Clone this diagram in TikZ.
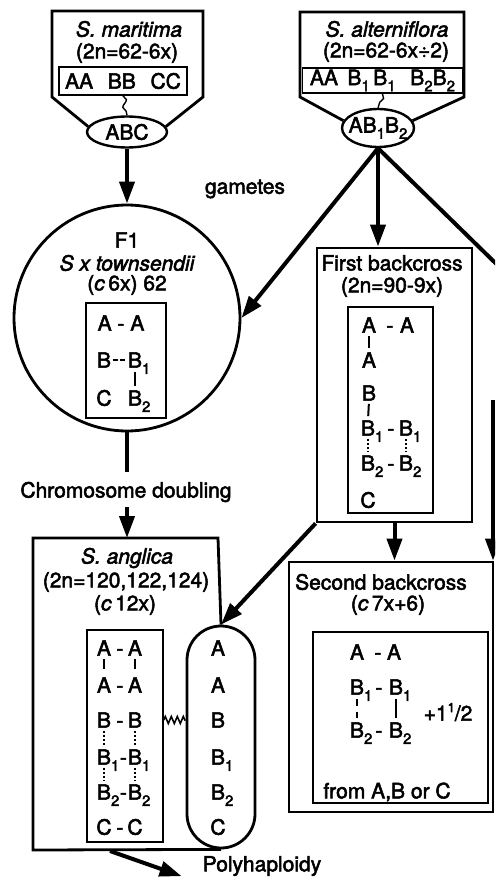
\documentclass[tikz,border=0pt]{standalone}
\usepackage{fontspec}
\setmainfont{TeX Gyre Heros}[FakeBold=2.4]
\usetikzlibrary{arrows.meta,decorations.pathmorphing,shapes.geometric}

% lowered chromosome index: zero width (for aligned columns) and inline
\newcommand\subn[1]{\smash{\rlap{\raisebox{-0.3em}{\fontsize{15}{15}\selectfont #1}}}}
\newcommand\subi[1]{\raisebox{-0.3em}{\fontsize{15}{15}\selectfont #1}}
% pairing hyphen, boxed as tall as a capital so it centres like the letters
\newcommand\hy{\vphantom{A}-}

\begin{document}
\begin{tikzpicture}[x=1pt,y=-1pt,
  every node/.style={font=\fontsize{21}{24}\selectfont, inner sep=0pt},
  it/.style={font=\fontsize{21}{24}\selectfont\itshape},
  outline/.style={line width=2.8pt, line join=miter},
  frame/.style={draw, line width=2.8pt},
  inbox/.style={draw, line width=1.6pt},
  gam/.style={draw, ellipse, line width=2.4pt},
  heavy/.style={line width=4pt},
  arr/.style={line width=4pt, -{Triangle[length=22pt,width=15pt]}},
  bar/.style={line width=2pt},
  dotbar/.style={line width=2pt, dash pattern=on 2pt off 2pt},
  squig/.style={line width=1.4pt, decorate, decoration={snake, amplitude=2.5pt, segment length=14pt}},
  zz/.style={line width=1.6pt, decorate, decoration={zigzag, amplitude=3.5pt, segment length=6pt}},
]
\useasboundingbox (0,0) rectangle (495,877);
\clip (0,0) rectangle (495,877);

% ---- S. maritima
\coordinate (mTL) at (52,11);
\coordinate (mTR) at (203,11);
\coordinate (mBL) at (52,97);
\coordinate (mBR) at (203,97);
\node[gam, minimum width=80pt, minimum height=31pt] (abc) at (127,132) {};
\node (abct) at (abc) {ABC};
\draw[outline] (abc.172) -- (mBL) -- (mTL) -- (mTR) -- (mBR) -- (abc.8);
\node[it] (mar1) at (129,29) {S. maritima};
\node (mar2) at (127,53) {(2n=62-6x)};
\node[inbox, minimum width=128pt, minimum height=28pt] (marg) at (123,81) {};
\node (margt) at (marg) {AA\hspace{0.7em}BB\hspace{0.7em}CC};
\draw[squig] (marg.south) -- (abc.north);

% ---- S. alterniflora
\coordinate (aTL) at (300,12);
\coordinate (aTR) at (464,12);
\coordinate (aBL) at (300,97);
\coordinate (aBR) at (464,97);
\node[gam, minimum width=72pt, minimum height=38pt] (ab) at (378,128) {};
\node (abt) at (ab) {AB\subi{1}B\subi{2}};
\draw[outline] (ab.168) -- (aBL) -- (aTL) -- (aTR) -- (aBR) -- (ab.12);
\node[it] (alt1) at (387,29) {S. alterniflora};
\node (alt2) at (386,52) {(2n=62-6x÷2)};
\node[inbox, minimum width=160pt, minimum height=25pt] (altg) at (382.5,80.5) {};
\node (altgt) at (altg) {AA\hspace{0.45em}B\subi{1}\,B\subi{1}\hspace{0.7em}B\subi{2}B\subi{2}};
\draw[squig] (altg.south) -- (ab.north);

\node (gam) at (245,189) {gametes};

% ---- F1 hybrid
\node[circle, draw, line width=2.8pt, minimum size=226pt] (f1) at (127,318) {};
\node (f1a) at (127,240) {F1};
\node[it] (f1b) at (127,263) {S x townsendii};
\node (f1c) at (127,285) {(\textit{c}\,6x) 62};
\node[inbox, minimum width=80pt, minimum height=115pt] (f1g) at (126,360.5) {};
\node (f1r1) at (121,323) {A - A};
\node (f1B) at (104,360) {B};
\node (f1B1) at (135,360) {B\subn{1}};
\node (f1C) at (104,398) {C};
\node (f1B2) at (135,398) {B\subn{2}};
\draw[line width=2pt, dash pattern=on 5pt off 2pt, shorten <=1.5pt, shorten >=1.5pt] (f1B.east) -- (f1B1.west);
\draw[bar, shorten <=4pt, shorten >=4pt] (f1B1.south) -- (f1B2.north);

% ---- first backcross
\node[frame, minimum width=155pt, minimum height=274pt] (fb) at (394.5,385) {};
\node (fb1) at (392,263) {First backcross};
\node (fb2) at (392,287) {(2n=90-9x)};
\node[inbox, minimum width=85pt, minimum height=206pt] (fbg) at (390.5,410) {};
\node (fbA1) at (369,325) {A};
\node (fbh1) at (390,325) {\hy};
\node (fbA2) at (407,325) {A};
\node (fbA3) at (369,360) {A};
\node (fbB) at (369,393) {B};
\node (fbB1) at (368,428) {B\subn{1}};
\node (fbh2) at (391,428) {\hy};
\node (fbB1r) at (406,428) {B\subn{1}};
\node (fbB2) at (368,463) {B\subn{2}};
\node (fbh3) at (391,463) {\hy};
\node (fbB2r) at (406,463) {B\subn{2}};
\node (fbC) at (368,500) {C};
\draw[bar, shorten <=3pt, shorten >=4pt] (fbA1.south) -- (fbA3.north);
\draw[bar, shorten <=3pt, shorten >=4pt] (fbB.south) -- (fbB1.north);
\draw[dotbar, shorten <=3pt, shorten >=3pt] (fbB1.south) -- (fbB2.north);
\draw[dotbar, shorten <=3pt, shorten >=3pt] (fbB1r.south) -- (fbB2r.north);

% ---- second backcross
\node[frame, minimum width=204pt, minimum height=250pt] (sb) at (391,687) {};
\node (sb1) at (381,582) {Second backcross};
\node (sb2) at (388,605) {(\textit{c}\,7x+6)};
\node[inbox, minimum width=175pt, minimum height=171pt] (sbg) at (400.5,717.5) {};
\node (sbA1) at (357,652) {A};
\node (sbh1) at (378,652) {\hy};
\node (sbA2) at (394,652) {A};
\node (sbB1) at (357,687) {B\subn{1}};
\node (sbh2) at (379,687) {\hy};
\node (sbB1r) at (396,687) {B\subn{1}};
\node (sbB2) at (357,730) {B\subn{2}};
\node (sbh3) at (379,730) {\hy};
\node (sbB2r) at (396,730) {B\subn{2}};
\node (sbx) at (448,712) {+1\raisebox{0.4em}{\fontsize{13}{13}\selectfont 1}/2};
\node (sbf) at (387,792) {from A,B or C};
\draw[line width=2pt, dash pattern=on 7pt off 6pt, shorten <=4pt, shorten >=4pt] (sbB1.south) -- (sbB2.north);
\draw[bar, shorten <=4pt, shorten >=4pt] (sbB1r.south) -- (sbB2r.north);

% ---- S. anglica
\coordinate (angTL) at (33,538);
\coordinate (angTR) at (218,538);
\coordinate (angBL) at (33,850);
\node[draw, line width=2.8pt, rounded corners=34pt, minimum width=68pt, minimum height=222pt] (hap) at (221,737) {};
\draw[outline] (hap.south) -- (angBL) -- (angTL) -- (angTR) -- (hap.north);
\node[it] (an1) at (127,558) {S. anglica};
\node (an2) at (126,582) {(2n=120,122,124)};
\node (an3) at (125,605) {(\textit{c}\,12x)};
\node[inbox, minimum width=76pt, minimum height=212pt] (angg) at (125,736) {};
\foreach \y/\l/\r/\h [count=\i] in {648/A/A/120, 685/A/A/120, 720/B/B/120, 757/B\subn{1}/B\subn{1}/123.5, 792/B\subn{2}/B\subn{2}/123.5, 827/C/C/120} {
  \node (gl\i) at (104,\y) {\l};
  \node (gh\i) at (\h,\y) {\hy};
  \node (gr\i) at (135,\y) {\r};
}
\draw[bar, shorten <=3pt, shorten >=8pt] (gl1.south) -- (gl2.north);
\draw[bar, shorten <=3pt, shorten >=8pt] (gr1.south) -- (gr2.north);
\foreach \a/\b in {3/4, 4/5} {
  \draw[dotbar, shorten <=3pt, shorten >=3pt] (gl\a.south) -- (gl\b.north);
  \draw[dotbar, shorten <=3pt, shorten >=3pt] (gr\a.south) -- (gr\b.north);
}
\foreach \y/\l [count=\i] in {648/A, 685/A, 720/B, 757/B\subn{1}, 792/B\subn{2}, 827/C}
  \node (hl\i) at (218,\y) {\l};
\draw[zz] (angg.east |- gr3) -- (hap.west |- gr3);

% ---- connectors
\draw[arr] (abc.south) -- (f1.north);
\draw[arr] (ab.south) -- (f1.east);
\draw[arr] (ab.south) -- (ab.south |- fb.north);
\coordinate (offr) at (525,292);
\draw[heavy] (ab.south) -- (offr);
\coordinate (rtop) at (493,400);
\draw[arr] (rtop) -- (rtop |- sb.north);

\node (cd) at (126,492) {Chromosome doubling};
\draw[heavy, shorten >=10pt] (f1.south) -- (f1.south |- cd.north);
\draw[arr, shorten <=5pt] (f1.south |- cd.south) -- (f1.south |- angTL);

\draw[arr] (fb.south) -- (fb.south |- sb.north);
\draw[arr] (fb.south west) -- (hap.north);

\node (poly) at (262,866) {Polyhaploidy};
\coordinate (phs) at (110,851);
\draw[arr] (phs) -- ([xshift=-21pt]poly.south west);
\end{tikzpicture}
\end{document}
